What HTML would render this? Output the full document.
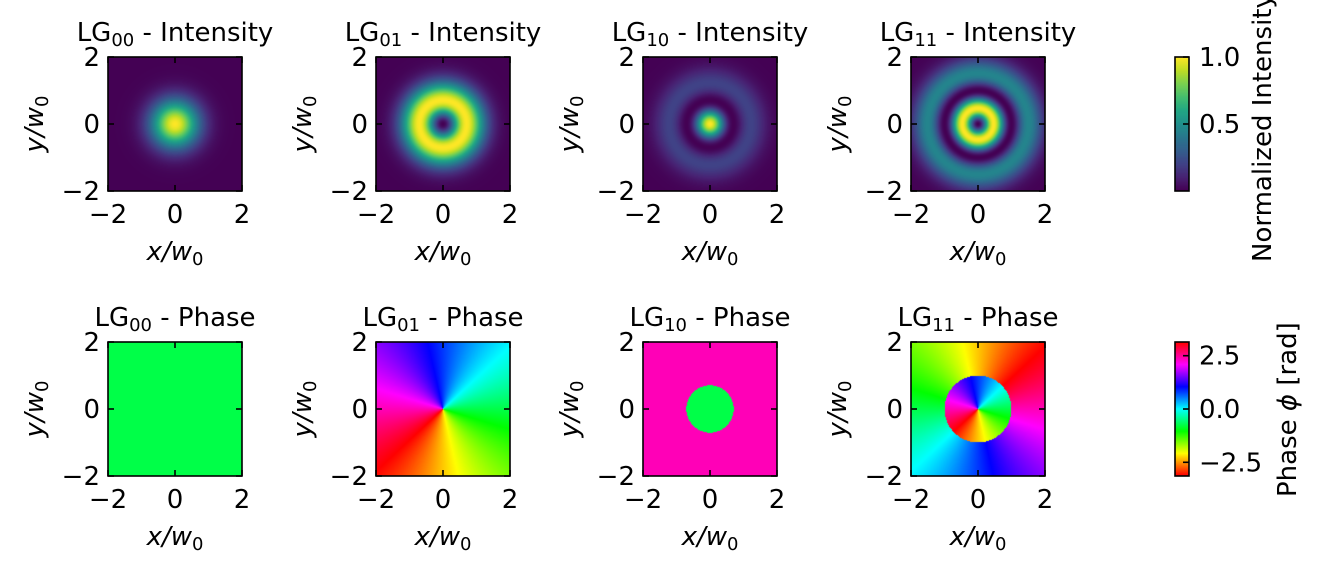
<!DOCTYPE html>
<html><head><meta charset="utf-8">
<style>
html,body{margin:0;padding:0;background:#fff;}
#wrap{position:relative;width:1323px;height:570px;overflow:hidden;}
canvas{position:absolute;}
svg{position:absolute;left:0;top:0;}
text{font-family:"DejaVu Sans","Liberation Sans",sans-serif;font-size:26px;fill:#000;}
</style></head><body>
<div id="wrap"></div>
<script>
const W=document.getElementById('wrap');
const cols=[108,376,643,911], rows=[57,342], S=134;
const vir=[[68,1,84],[72,35,116],[64,67,135],[52,94,141],[41,120,142],[32,144,140],[34,167,132],[68,190,112],[121,209,81],[189,222,38],[253,231,37]];
function viridis(t){t=Math.max(0,Math.min(1,t));const f=t*10,i=Math.min(9,Math.floor(f)),u=f-i;const a=vir[i],b=vir[i+1];return [a[0]+(b[0]-a[0])*u,a[1]+(b[1]-a[1])*u,a[2]+(b[2]-a[2])*u];}
function hsv(t){t=((t%1)+1)%1;const h=t*6,i=Math.floor(h),f=h-i;let r,g,b;
switch(i%6){case 0:r=1;g=f;b=0;break;case 1:r=1-f;g=1;b=0;break;case 2:r=0;g=1;b=f;break;case 3:r=0;g=1-f;b=1;break;case 4:r=f;g=0;b=1;break;default:r=1;g=0;b=1-f;}
return [r*255,g*255,b*255];}
const modes=[[0,0],[0,1],[1,0],[1,1]];
function Lag(p,l,x){if(p==0)return 1;return 1+l-x;}
const c0=-0.75;
function mk(x,y,w,h){const c=document.createElement('canvas');c.width=w;c.height=h;c.style.left=x+'px';c.style.top=y+'px';W.appendChild(c);return c;}
modes.forEach((m,k)=>{const [p,l]=m;
 let cv=mk(cols[k],rows[0],S,S),ctx=cv.getContext('2d'),im=ctx.createImageData(S,S);
 let vals=[],mx=0;
 for(let j=0;j<S;j++)for(let i=0;i<S;i++){const X=-2+4*(i+.5)/S,Y=2-4*(j+.5)/S,r2=X*X+Y*Y;
  const a=Math.pow(Math.sqrt(2*r2),l)*Lag(p,l,2*r2)*Math.exp(-r2);const v=a*a;vals.push(v);if(v>mx)mx=v;}
 for(let q=0;q<S*S;q++){const c=viridis(vals[q]/mx);im.data[q*4]=c[0];im.data[q*4+1]=c[1];im.data[q*4+2]=c[2];im.data[q*4+3]=255;}
 ctx.putImageData(im,0,0);
 cv=mk(cols[k],rows[1],S,S);ctx=cv.getContext('2d');im=ctx.createImageData(S,S);
 for(let j=0;j<S;j++)for(let i=0;i<S;i++){const X=-2+4*(i+.5)/S,Y=2-4*(j+.5)/S,r2=X*X+Y*Y;
  let ph=l*Math.atan2(Y,X)+c0;if(Lag(p,l,2*r2)<0)ph+=Math.PI;
  const c=hsv((ph+Math.PI)/(2*Math.PI));const q=(j*S+i)*4;im.data[q]=c[0];im.data[q+1]=c[1];im.data[q+2]=c[2];im.data[q+3]=255;}
 ctx.putImageData(im,0,0);
});
let cb=mk(1175,57,14,134),cx=cb.getContext('2d');
for(let j=0;j<134;j++){const c=viridis(1-j/133);cx.fillStyle=`rgb(${c[0]|0},${c[1]|0},${c[2]|0})`;cx.fillRect(0,j,14,1);}
cb=mk(1175,342,14,134);cx=cb.getContext('2d');
for(let j=0;j<134;j++){const c=hsv(1-j/133);cx.fillStyle=`rgb(${c[0]|0},${c[1]|0},${c[2]|0})`;cx.fillRect(0,j,14,1);}
let s='<svg width="1323" height="570" xmlns="http://www.w3.org/2000/svg">';
const names=['00','01','10','11'];
rows.forEach((y0,ri)=>{cols.forEach((x0,k)=>{
 s+=`<rect x="${x0}" y="${y0}" width="${S}" height="${S}" fill="none" stroke="#000" stroke-width="1.6"/>`;
 [0,67,134].forEach(d=>{
  s+=`<line x1="${x0+d}" y1="${y0}" x2="${x0+d}" y2="${y0+6}" stroke="#000" stroke-width="1.6"/>`;
  s+=`<line x1="${x0+d}" y1="${y0+S}" x2="${x0+d}" y2="${y0+S-6}" stroke="#000" stroke-width="1.6"/>`;
  s+=`<line x1="${x0}" y1="${y0+d}" x2="${x0+6}" y2="${y0+d}" stroke="#000" stroke-width="1.6"/>`;
  s+=`<line x1="${x0+S}" y1="${y0+d}" x2="${x0+S-6}" y2="${y0+d}" stroke="#000" stroke-width="1.6"/>`;
 });
 const lab=['2','0','\u22122'];
 [0,67,134].forEach((d,i)=>{s+=`<text x="${x0-8}" y="${y0+d+9}" text-anchor="end">${lab[i]}</text>`;});
 ['\u22122','0','2'].forEach((t,i)=>{s+=`<text x="${x0+i*67}" y="${y0+S+32}" text-anchor="middle">${t}</text>`;});
 s+=`<text x="${x0+67}" y="${y0+S+69}" text-anchor="middle" font-style="italic">x/w<tspan font-size="18" dy="5" font-style="normal">0</tspan></text>`;
 s+=`<text transform="translate(${x0-65},${y0+67}) rotate(-90)" text-anchor="middle" font-style="italic">y/w<tspan font-size="18" dy="5" font-style="normal">0</tspan></text>`;
 s+=`<text x="${x0+67}" y="${y0-16}" text-anchor="middle">LG<tspan font-size="18" dy="5">${names[k]}</tspan><tspan dy="-5"> - ${ri?'Phase':'Intensity'}</tspan></text>`;
});});
s+=`<rect x="1175" y="57" width="14" height="134" fill="none" stroke="#000" stroke-width="1.6"/>`;
s+=`<rect x="1175" y="342" width="14" height="134" fill="none" stroke="#000" stroke-width="1.6"/>`;
[[57,'1.0'],[124,'0.5']].forEach(a=>{s+=`<line x1="1183" y1="${a[0]}" x2="1189" y2="${a[0]}" stroke="#000" stroke-width="1.6"/><text x="1199" y="${a[0]+9}">${a[1]}</text>`;});
[[355.7,'2.5'],[409,'0.0'],[462.3,'\u22122.5']].forEach(a=>{s+=`<line x1="1183" y1="${a[0]}" x2="1189" y2="${a[0]}" stroke="#000" stroke-width="1.6"/><text x="1199" y="${a[0]+9}">${a[1]}</text>`;});
s+=`<text transform="translate(1271,262) rotate(-90)" text-anchor="start">Normalized Intensity</text>`;
s+=`<text transform="translate(1296,497) rotate(-90)" text-anchor="start">Phase <tspan font-style="italic">ϕ</tspan> [rad]</text>`;
s+='</svg>';
W.insertAdjacentHTML('beforeend',s);
</script>
</body></html>
